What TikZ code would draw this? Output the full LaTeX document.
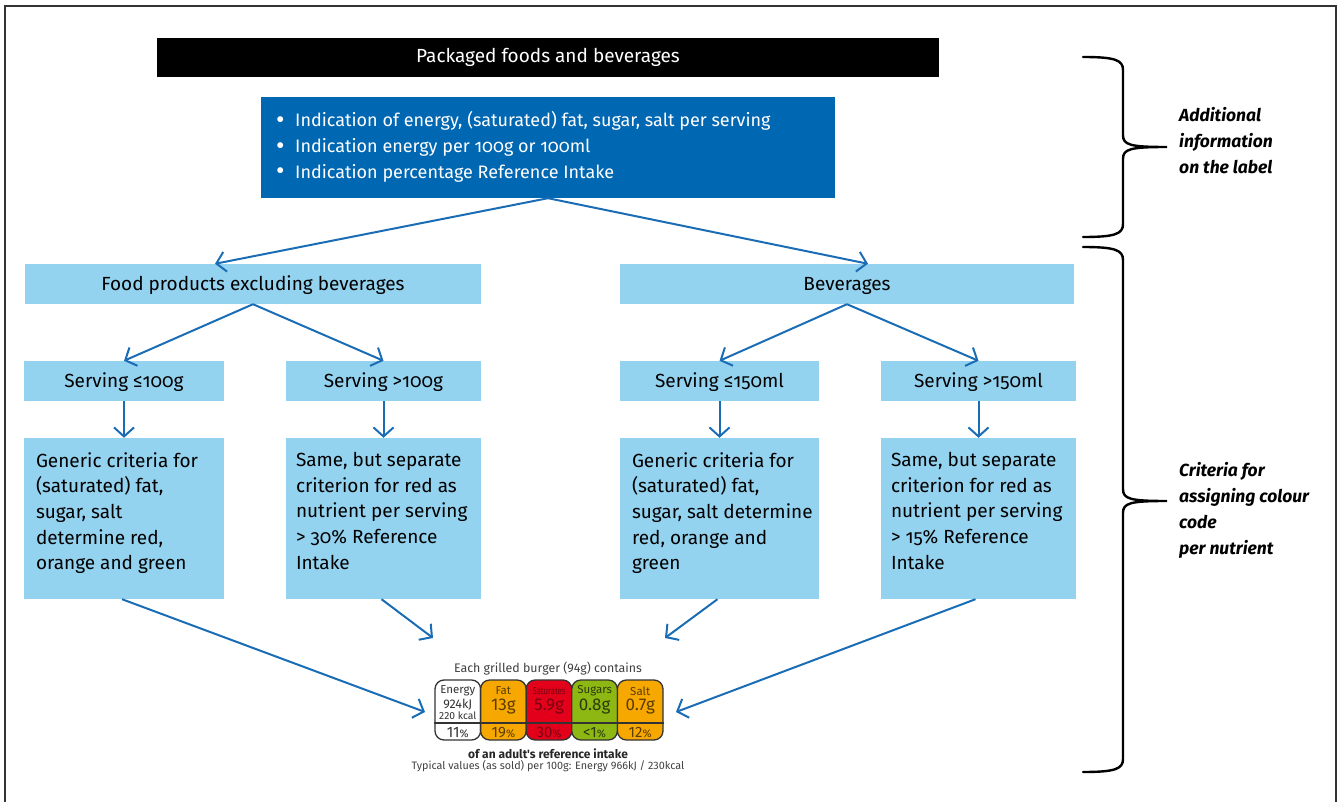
\documentclass[tikz,border=0pt]{standalone}
\usepackage{fontspec}
\setmainfont{Fira Sans}[Numbers=OldStyle]
\newfontfamily\labfont{Fira Sans}[Numbers=Lining]
\usetikzlibrary{arrows.meta}
\definecolor{dblue}{HTML}{0067B2}
\definecolor{lblue}{HTML}{93D3F0}
\definecolor{ablue}{HTML}{1A6DB5}
\definecolor{tlorange}{HTML}{F7A800}
\definecolor{tlred}{HTML}{E2001A}
\definecolor{tlgreen}{HTML}{8DB814}
\definecolor{txorange}{HTML}{5A3C00}
\definecolor{txred}{HTML}{7A0012}
\definecolor{txgreen}{HTML}{2C3A0C}
\newcommand{\bigbul}{\makebox[19pt][l]{\raisebox{-1.5pt}{\fontsize{26}{0}\selectfont\textbullet}}}
\begin{document}
\begin{tikzpicture}[x=1pt,y=-1pt,
  lbox/.style={fill=lblue, inner sep=0pt, text height=13.5pt, text depth=0pt, font=\fontsize{19}{22}\selectfont},
  cbox/.style={fill=lblue, inner sep=0pt},
  crittext/.style={anchor=north west, inner sep=0pt, align=left, font=\fontsize{19}{25.6}\selectfont},
  arr/.style={draw=ablue, line width=2pt, -{Straight Barb[length=9pt,width=20pt]}},
  seg/.style={draw=black!80, line width=1.3pt, rounded corners=9pt, minimum width=45.6pt, minimum height=60pt, inner sep=0pt},
  lt/.style={inner sep=0pt, font=\labfont\fontsize{11.5}{12}\selectfont},
  lv/.style={inner sep=0pt, font=\labfont\fontsize{17}{18}\selectfont},
  lp/.style={inner sep=0pt, font=\labfont\fontsize{15}{16}\selectfont},
  bracetext/.style={anchor=west, inner sep=0pt, align=left, font=\bfseries\itshape\fontsize{17.5}{26}\selectfont}
]
\useasboundingbox (0,0) rectangle (1339,802);
\draw[line width=1.8pt, black!80] (5,806) -- (5,6) -- (1336,6) -- (1336,806);

% top boxes
\node[fill=black, text=white, minimum width=782pt, minimum height=39pt, inner sep=0pt,
      font=\fontsize{19}{22}\selectfont] (top) at (548,57.5) {Packaged foods and beverages};
\node[fill=dblue, minimum width=574pt, minimum height=101pt, inner sep=0pt] (info) at (548,147.5) {};
\node[text=white, anchor=west, align=left, inner sep=0pt, font=\fontsize{18}{25.7}\selectfont] (infot) at (276,147)
  {\bigbul Indication of energy, (saturated) fat, sugar, salt per serving\\
   \bigbul Indication energy per 100g or 100ml\\
   \bigbul Indication percentage Reference Intake};

% second level
\node[lbox, minimum width=456pt, minimum height=40pt] (food) at (253,284) {Food products excluding beverages};
\node[lbox, minimum width=454pt, minimum height=40pt] (bev) at (847,284) {Beverages};

% serving boxes
\node[lbox, minimum width=200pt, minimum height=40pt] (s1) at (124,381) {Serving ≤100g};
\node[lbox, minimum width=195pt, minimum height=40pt] (s2) at (383.5,381) {Serving >100g};
\node[lbox, minimum width=199pt, minimum height=40pt] (s3) at (719.5,381) {Serving ≤150ml};
\node[lbox, minimum width=195pt, minimum height=40pt] (s4) at (978.5,381) {Serving >150ml};

% criteria boxes
\node[cbox, minimum width=200pt, minimum height=161pt] (c1) at (124,518.5) {};
\node[cbox, minimum width=195pt, minimum height=161pt] (c2) at (383.5,518.5) {};
\node[cbox, minimum width=199pt, minimum height=161pt] (c3) at (719.5,518.5) {};
\node[cbox, minimum width=195pt, minimum height=161pt] (c4) at (978.5,518.5) {};
\node[crittext] (c1t) at ([xshift=12pt,yshift=-14.5pt]c1.north west)
  {Generic criteria for\\(saturated) fat,\\sugar, salt\\determine red,\\orange and green};
\node[crittext] (c2t) at ([xshift=10pt,yshift=-14.5pt]c2.north west)
  {Same, but separate\\criterion for red as\\nutrient per serving\\> 30\% Reference\\Intake};
\node[crittext] (c3t) at ([xshift=12pt,yshift=-14.5pt]c3.north west)
  {Generic criteria for\\(saturated) fat,\\sugar, salt determine\\red, orange and\\green};
\node[crittext] (c4t) at ([xshift=10pt,yshift=-14.5pt]c4.north west)
  {Same, but separate\\criterion for red as\\nutrient per serving\\> 15\% Reference\\Intake};

% traffic light label
\node[lt, font=\labfont\fontsize{12.4}{13}\selectfont, text=black!75] (each) at (548,669) {Each grilled burger (94g) contains};
\node[seg, fill=white]    (segE) at (457.8,710) {};
\node[seg, fill=tlorange] (segF) at (503.4,710) {};
\node[seg, fill=tlred]    (segS) at (549.0,710) {};
\node[seg, fill=tlgreen]  (segG) at (594.6,710) {};
\node[seg, fill=tlorange] (segT) at (640.2,710) {};
\draw[line width=1.3pt, black!80] (segE.west |- 0,723) -- (segT.east |- 0,723);
% energy
\node[lt, text=black!80] (eN) at (457.8,691) {Energy};
\node[lt, text=black!80, font=\labfont\fontsize{12.5}{13}\selectfont] (eV) at (457.8,704.5) {924kJ};
\node[lt, text=black!80, font=\labfont\fontsize{10.3}{11}\selectfont] (eK) at (457.8,716) {220 kcal};
\node[lp, text=black!80] (eP) at (457.8,732.5) {11{\fontsize{11}{12}\selectfont\%}};
% fat
\node[lt, text=txorange] (fN) at (503.4,691) {Fat};
\node[lv, text=txorange] (fV) at (503.4,707) {13g};
\node[lp, text=txorange] (fP) at (503.4,732.5) {19{\fontsize{11}{12}\selectfont\%}};
% saturates
\node[lt, text=txred, font=\labfont\fontsize{9.8}{10}\selectfont, xscale=0.78] (sN) at (549.0,691) {Saturates};
\node[lv, text=txred] (sV) at (549.0,707) {5.9g};
\node[lp, text=txred] (sP) at (549.0,732.5) {30{\fontsize{11}{12}\selectfont\%}};
% sugars
\node[lt, text=txgreen] (gN) at (594.6,691) {Sugars};
\node[lv, text=txgreen] (gV) at (594.6,707) {0.8g};
\node[lp, text=txgreen] (gP) at (594.6,732.5) {<1{\fontsize{11}{12}\selectfont\%}};
% salt
\node[lt, text=txorange] (tN) at (640.2,691) {Salt};
\node[lv, text=txorange] (tV) at (640.2,707) {0.7g};
\node[lp, text=txorange] (tP) at (640.2,732.5) {12{\fontsize{11}{12}\selectfont\%}};
\node[lt, font=\labfont\bfseries\fontsize{12}{13}\selectfont, text=black!85] (adult) at (548,754) {of an adult's reference intake};
\node[lt, font=\labfont\fontsize{10.8}{12}\selectfont, text=black!75] (typ) at (548,766) {Typical values (as sold) per 100g: Energy 966kJ / 230kcal};

\coordinate (labL) at (425,712);
\coordinate (labR) at (676,712);
\coordinate (labML) at (433,638);
\coordinate (labMR) at (665,638);

% connectors
\draw[arr] (info.south) -- ([xshift=-38pt]food.north);
\draw[arr] (info.south) -- ([xshift=21pt]bev.north);
\draw[arr] (food.south) -- (s1.north);
\draw[arr] (food.south) -- (s2.north);
\draw[arr] (bev.south) -- (s3.north);
\draw[arr] (bev.south) -- (s4.north);
\draw[arr] (s1.south) -- (c1.north);
\draw[arr] (s2.south) -- (c2.north);
\draw[arr] (s3.south) -- (c3.north);
\draw[arr] (s4.south) -- (c4.north);
\draw[arr] ([xshift=-2pt]c1.south) -- (labL);
\draw[arr] ([xshift=-2pt]c2.south) -- (labML);
\draw[arr] ([xshift=-2pt]c3.south) -- (labMR);
\draw[arr] ([xshift=-3pt]c4.south) -- (labR);

% braces
\draw[line width=2.4pt, line cap=round]
  (1083,57) .. controls (1115,57) and (1123,60) .. (1123,70) -- (1123,135)
  .. controls (1123,145) and (1130,147) .. (1167,147)
  .. controls (1130,147) and (1123,149) .. (1123,159) -- (1123,224)
  .. controls (1123,234) and (1115,237) .. (1083,237);
\draw[line width=2.4pt, line cap=round]
  (1083,247) .. controls (1115,247) and (1123,250) .. (1123,260) -- (1123,489)
  .. controls (1123,499) and (1130,501) .. (1167,501)
  .. controls (1130,501) and (1123,503) .. (1123,513) -- (1123,759)
  .. controls (1123,769) and (1115,772) .. (1083,772);
\node[bracetext] (addinfo) at (1179,141) {Additional\\information\\on the label};
\node[bracetext] (crit) at (1179,510) {Criteria for\\assigning colour\\code\\per nutrient};
\end{tikzpicture}
\end{document}
